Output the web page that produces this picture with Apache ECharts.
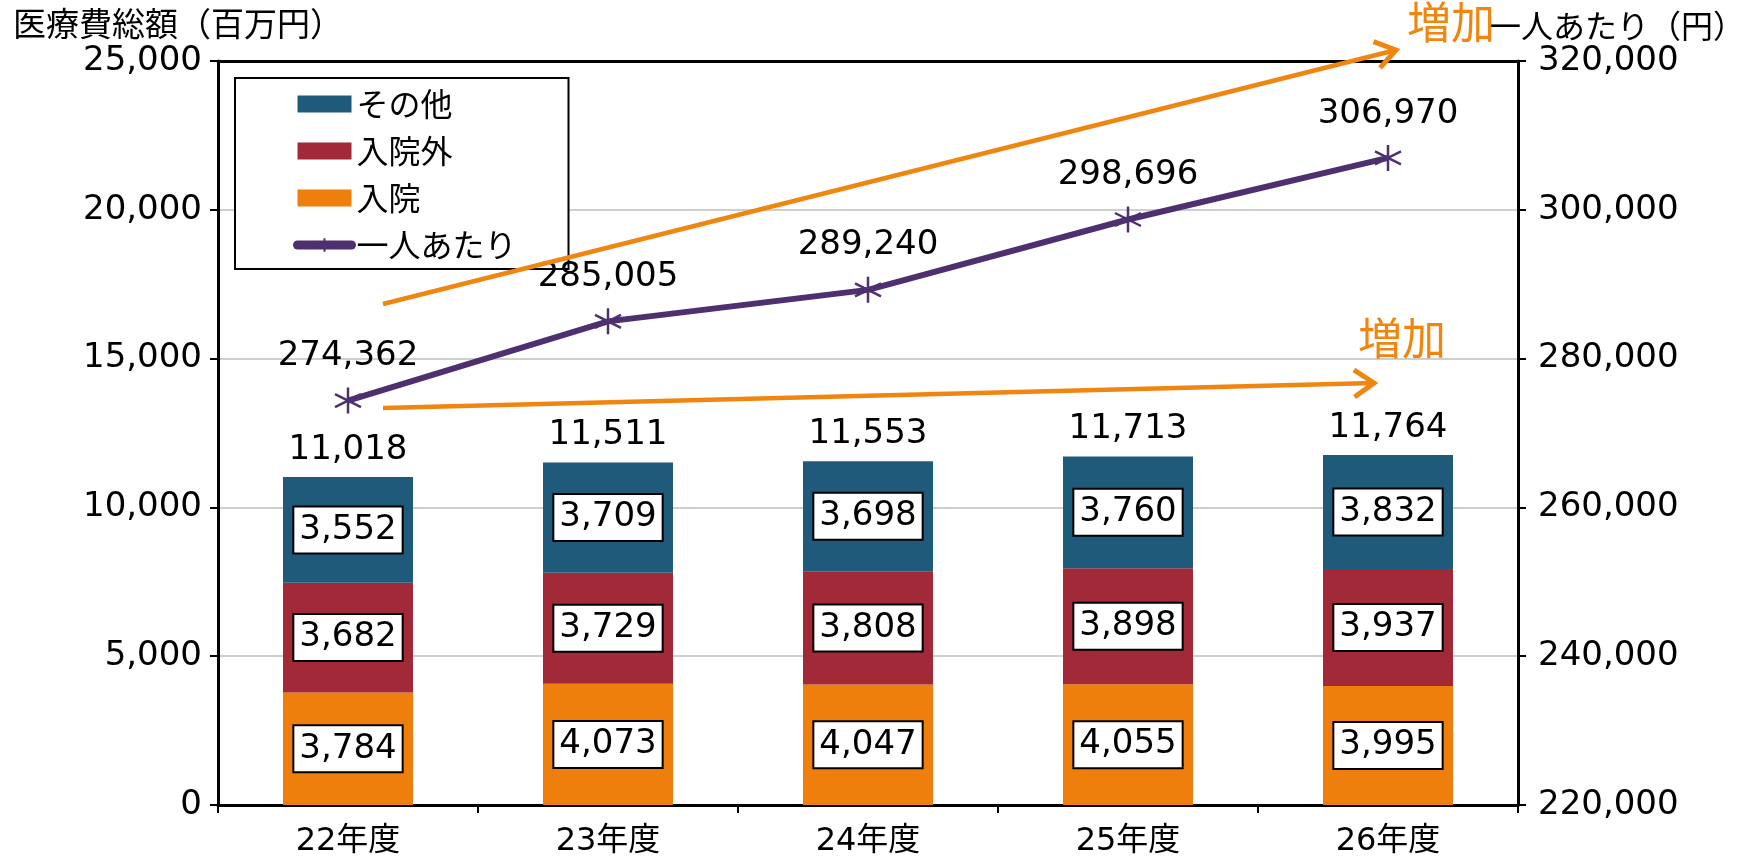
<!DOCTYPE html>
<html><head><meta charset="utf-8">
<script src="https://cdn.jsdelivr.net/npm/echarts@6/dist/echarts.min.js"></script>
<style>html,body{margin:0;padding:0;background:#fff}#c{width:1754px;height:863px}</style>
</head><body><div id="c"></div>
<script>
const categories = ['22年度','23年度','24年度','25年度','26年度'];
const nyuin = [3784, 4073, 4047, 4055, 3995];
const nyuinGai = [3682, 3729, 3808, 3898, 3937];
const sonota = [3552, 3709, 3698, 3760, 3832];
const perPerson = [274362, 285005, 289240, 298696, 306970];
const leftTicks = {min: 0, max: 25000, interval: 5000};
const rightTicks = {min: 220000, max: 320000, interval: 20000};

const totals = categories.map((_, i) => nyuin[i] + nyuinGai[i] + sonota[i]);
const fmt = v => Number(v).toLocaleString('en-US');
const FONT = '"DejaVu Sans", "Noto Sans CJK JP", sans-serif';
const JFONT = '"Noto Sans CJK JP", sans-serif';
const ORANGE_ARROW = '#F0850F';
const NUM = 34;

const boxLabel = {
  show: true, position: 'inside', formatter: p => fmt(p.value),
  color: '#000', fontFamily: FONT, fontSize: NUM,
  backgroundColor: '#fff', borderColor: '#000', borderWidth: 2,
  padding: [7, 5, 4, 5]
};

const chart = echarts.init(document.getElementById('c'), null, {renderer: 'canvas'});
const star = 'path://M0,-10L0,10M-8.66,-5L8.66,5M-8.66,5L8.66,-5';

function arrow(x1, y1, x2, y2) {
  const ang = Math.atan2(y2 - y1, x2 - x1), L = 24, a = 0.6;
  return [
    {type: 'polyline', shape: {points: [[x1, y1], [x2, y2]]}, style: {stroke: ORANGE_ARROW, lineWidth: 4.5, fill: null}, z: 20},
    {type: 'polyline', shape: {points: [
      [x2 - L * Math.cos(ang - a), y2 - L * Math.sin(ang - a)], [x2, y2],
      [x2 - L * Math.cos(ang + a), y2 - L * Math.sin(ang + a)]]},
      style: {stroke: ORANGE_ARROW, lineWidth: 5, fill: null, lineJoin: 'miter'}, z: 20}
  ];
}

chart.setOption({
  animation: false,
  backgroundColor: '#fff',
  title: [
    {text: '医療費総額（百万円）', left: 8, top: 2, textStyle: {fontFamily: JFONT, fontSize: 33, fontWeight: 'normal', color: '#000'}},
    {text: '一人あたり（円）', right: 4, top: 5, textStyle: {fontFamily: JFONT, fontSize: 32, fontWeight: 'normal', color: '#000'}}
  ],
  grid: {left: 218, right: 236, top: 61, bottom: 58},
  legend: {
    left: 235, top: 78, orient: 'vertical',
    padding: [10, 52, 8, 58], itemGap: 15,
    itemWidth: 54, itemHeight: 17,
    borderColor: '#000', borderWidth: 2, backgroundColor: '#fff',
    textStyle: {fontFamily: JFONT, fontSize: 32, color: '#000'},
    data: [
      {name: 'その他', icon: 'rect'},
      {name: '入院外', icon: 'rect'},
      {name: '入院', icon: 'rect'},
      {name: '一人あたり', lineStyle: {width: 9, cap: 'round'}}
    ]
  },
  xAxis: [{
    type: 'category', data: categories,
    axisLine: {lineStyle: {color: '#000', width: 3}},
    axisTick: {show: true, length: 8, lineStyle: {color: '#000', width: 2}},
    axisLabel: {fontFamily: FONT, fontSize: 32, color: '#000', margin: 21}
  }, {
    type: 'category', data: categories, position: 'top',
    axisLine: {show: true, lineStyle: {color: '#000', width: 3}},
    axisTick: {show: false}, axisLabel: {show: false}
  }],
  yAxis: [
    {type: 'value', min: leftTicks.min, max: leftTicks.max, interval: leftTicks.interval,
     axisLine: {show: true, lineStyle: {color: '#000', width: 3}},
     axisTick: {show: true, length: 8, lineStyle: {color: '#000', width: 2}},
     splitLine: {lineStyle: {color: '#BFBFBF', width: 1.5}},
     axisLabel: {fontFamily: FONT, fontSize: NUM, color: '#000', margin: 16, formatter: v => fmt(v)}},
    {type: 'value', min: rightTicks.min, max: rightTicks.max, interval: rightTicks.interval, position: 'right',
     axisLine: {show: true, lineStyle: {color: '#000', width: 3}},
     axisTick: {show: true, length: 8, lineStyle: {color: '#000', width: 2}},
     splitLine: {show: false},
     axisLabel: {fontFamily: FONT, fontSize: NUM, color: '#000', margin: 20, formatter: v => fmt(v)}}
  ],
  series: [
    {name: '入院', type: 'bar', stack: 'total', data: nyuin, barWidth: '50%', itemStyle: {color: '#EE7F0D'}, label: boxLabel},
    {name: '入院外', type: 'bar', stack: 'total', data: nyuinGai, itemStyle: {color: '#A12938'}, label: boxLabel},
    {name: 'その他', type: 'bar', stack: 'total', data: sonota, itemStyle: {color: '#1F5A7B'}, label: boxLabel},
    {name: '合計', type: 'bar', stack: 'total', data: totals.map(() => 0), itemStyle: {color: 'transparent'},
     label: {show: true, position: 'top', distance: 10, color: '#000', fontFamily: FONT, fontSize: NUM,
             formatter: p => fmt(totals[p.dataIndex])}},
    {name: '一人あたり', type: 'line', yAxisIndex: 1, data: perPerson, z: 10,
     lineStyle: {color: '#4E3070', width: 6},
     symbol: star, symbolSize: 26,
     itemStyle: {color: '#4E3070', borderColor: '#4E3070', borderWidth: 2.5},
     label: {show: true, position: 'top', distance: 13, color: '#000', fontFamily: FONT, fontSize: NUM, formatter: p => fmt(p.value)}}
  ],
  graphic: [
    ...arrow(383, 304, 1396, 50),
    ...arrow(383, 408, 1374, 383),
    {type: 'text', left: 1407, top: 0, z: 20, style: {text: '増加', fill: ORANGE_ARROW, font: '44px "Noto Sans CJK JP"'}},
    {type: 'text', left: 1358, top: 316, z: 20, style: {text: '増加', fill: ORANGE_ARROW, font: '44px "Noto Sans CJK JP"'}}
  ]
});
</script></body></html>
